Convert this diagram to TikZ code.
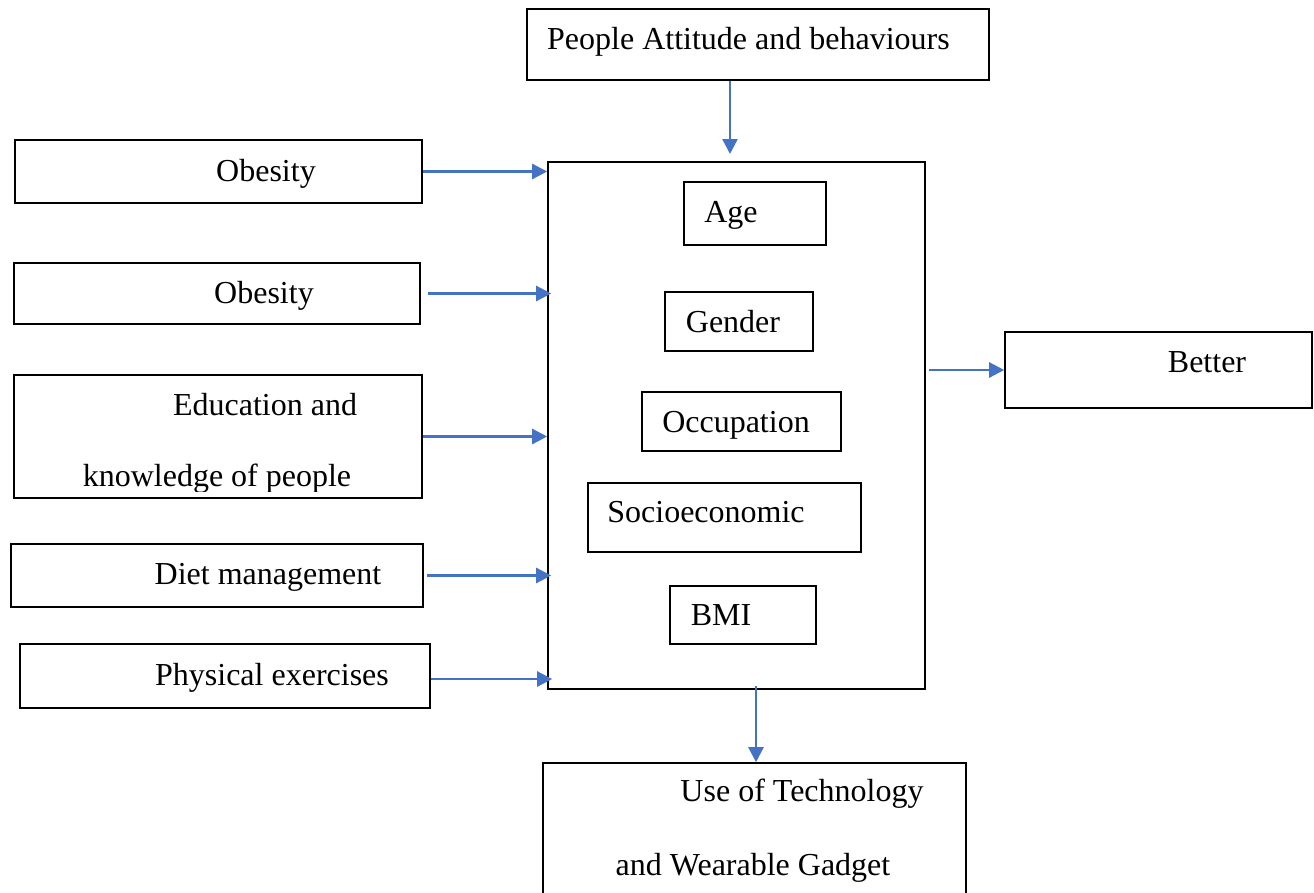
\documentclass[tikz,border=0pt]{standalone}
\usepackage{fontspec}
\setmainfont{Liberation Serif}
\usetikzlibrary{arrows.meta}
\definecolor{ArrowClr}{rgb}{0.267,0.447,0.769}

\begin{document}
\begin{tikzpicture}[x=1pt,y=-1pt,
  box/.style={draw=black,line width=1.6pt,rectangle,inner sep=0pt},
  txt/.style={font=\fontsize{32}{38}\selectfont,inner sep=0pt,anchor=base},
  flow/.style={ArrowClr,line width=2.4pt,-{Triangle[length=15pt,width=15pt]}}]

\clip (0,0) rectangle (1314,892);

% Boxes on the left.
\node[box,minimum width=407pt,minimum height=63pt] (obA) at (218.5,171.5) {};
\node[box,minimum width=406pt,minimum height=61pt] (obB) at (217,293.5) {};
\node[box,minimum width=408pt,minimum height=123pt] (edu) at (218,436.5) {};
\node[box,minimum width=412pt,minimum height=63pt] (diet) at (217,575.5) {};
\node[box,minimum width=410pt,minimum height=64pt] (phys) at (225,676) {};

\node[txt] (obAt) at (266,181) {Obesity};
\node[txt] (obBt) at (264,303) {Obesity};
\node[txt] (eduA) at (265,415) {Education and};
\begin{scope}
\clip (14,375) rectangle (422,491);
\node[txt] (eduB) at (217,486) {knowledge of people};
\end{scope}
\node[txt] (dietT) at (268,584) {Diet management};
\node[txt] (physT) at (272,685) {Physical exercises};

% Top, right and bottom boxes.
\node[box,minimum width=462pt,minimum height=71pt] (people) at (758,44.5) {};
\node[txt,anchor=base west] (peopleT) at (547,49) {People Attitude and behaviours};
\node[box,minimum width=307pt,minimum height=76pt] (better) at (1158.5,370) {};
\node[txt] (betterT) at (1207,372) {Better};
\node[box,minimum width=423pt,minimum height=142pt] (tech) at (754.5,834) {};
\node[txt] (techA) at (802,801) {Use of Technology};
\node[txt] (techB) at (753,875) {and Wearable Gadget};

% The main box and its factors.
\node[box,minimum width=377pt,minimum height=527pt] (main) at (736.5,425.5) {};
\node[box,minimum width=142pt,minimum height=63pt] (age) at (755,213.5) {};
\node[box,minimum width=148pt,minimum height=59pt] (gender) at (739,321.5) {};
\node[box,minimum width=199pt,minimum height=59pt] (occ) at (741.5,421.5) {};
\node[box,minimum width=273pt,minimum height=69pt] (socio) at (724.5,517.5) {};
\node[box,minimum width=146pt,minimum height=58pt] (bmi) at (743,615) {};

\node[txt] (ageT) at (731,222) {Age};
\node[txt] (genderT) at (733,332) {Gender};
\node[txt] (occT) at (736,432) {Occupation};
\node[txt] (socioT) at (706,522) {Socioeconomic};
\node[txt] (bmiT) at (721,625) {BMI};

% Arrows.
\coordinate (inTop) at (730,154);
\coordinate (outBot) at (756,686);

\draw[flow] (obA.east) -- (obA.east -| main.west);
\draw[flow] ([xshift=7pt]obB.east) -- ([xshift=4pt]obB.east -| main.west);
\draw[flow] (edu.east) -- (edu.east -| main.west);
\draw[flow] ([xshift=3pt]diet.east) -- ([xshift=4pt]diet.east -| main.west);
\draw[flow] ([yshift=-3pt]phys.east) -- ([xshift=5pt,yshift=-3pt]phys.east -| main.west);
\draw[flow] (inTop |- people.south) -- (inTop);
\draw[flow] ([xshift=3pt]main.east |- better.west) -- (better.west);
\draw[flow] (outBot) -- (outBot |- tech.north);

\end{tikzpicture}
\end{document}
